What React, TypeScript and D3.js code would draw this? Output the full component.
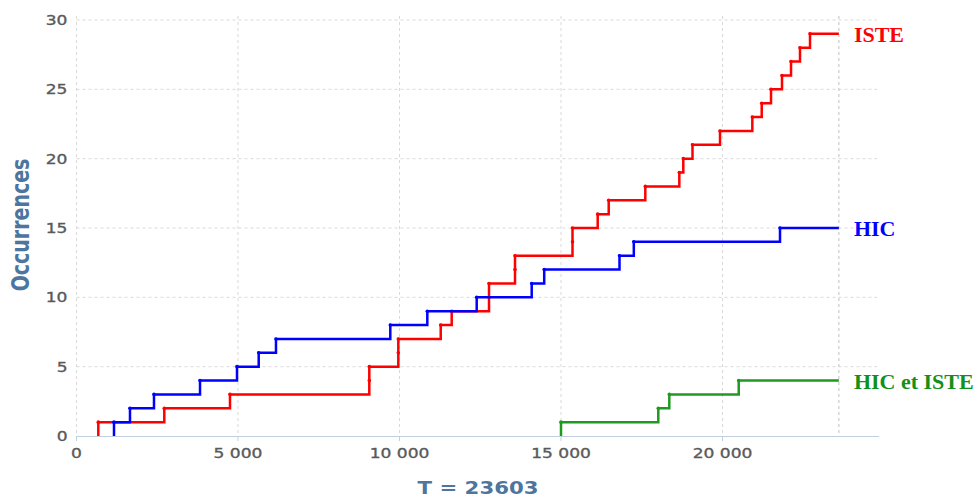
import React from "react";
import * as d3 from "d3";

const T_END = 23603;
const X_MAX = 24783;
const Y_MAX = 30;

const isteTimes = [675, 2718, 4752, 9065, 9065, 9963, 9963, 11276, 11616, 12771, 12771, 13576, 13576, 15356, 15356, 16136, 16477, 17610, 18663, 18786, 19071, 19923, 20923, 21214, 21502, 21842, 22121, 22399, 22709];
const hicTimes = [1161, 1656, 2399, 3824, 4969, 5641, 6176, 9715, 10861, 12390, 14093, 14480, 16811, 17254, 21780];
const bothTimes = [15000, 18012, 18353, 20502];

const xTicks = [0, 5000, 10000, 15000, 20000];
const yTicks = [0, 5, 10, 15, 20, 25, 30];

const seriesList = [
  { name: "ISTE", times: isteTimes, color: "#ff0000", text: "#ff0000" },
  { name: "HIC", times: hicTimes, color: "#0000ff", text: "#0000ff" },
  { name: "HIC et ISTE", times: bothTimes, color: "#1f9a1f", text: "#11901a" },
];

const W = 979;
const H = 497;
const PL = 76.5;
const PR = 877;
const PT = 20;
const PB = 436;

export default function App() {
  const x = d3.scaleLinear().domain([0, X_MAX]).range([PL, PR]);
  const y = d3.scaleLinear().domain([0, Y_MAX]).range([PB, PT]);
  const fmt = (v: number) => d3.format(",")(v).replace(/,/g, " ");
  const line = d3
    .line<[number, number]>()
    .x((d) => x(d[0]))
    .y((d) => y(d[1]))
    .curve(d3.curveStepAfter);

  const tickFont = "DejaVu Sans, Verdana, sans-serif";
  const grid = "#d9d9d9";

  return (
    <svg width={W} height={H} style={{ position: "absolute", left: 0, top: 0, background: "#fff" }}>
      {yTicks.filter((t) => t > 0).map((t) => (
        <line key={"hy" + t} x1={PL} x2={PR} y1={y(t)} y2={y(t)} stroke={grid} strokeDasharray="3,3" strokeWidth={1} />
      ))}
      {xTicks.map((t) => (
        <line key={"vx" + t} x1={x(t)} x2={x(t)} y1={PT - 4} y2={PB} stroke={grid} strokeDasharray="3,3" strokeWidth={1} />
      ))}
      <line x1={x(T_END)} x2={x(T_END)} y1={PT - 4} y2={PB} stroke="#cccccc" strokeDasharray="3,3" strokeWidth={1.2} />
      <line x1={PL} x2={PR + 2} y1={PB + 0.5} y2={PB + 0.5} stroke="#c0d0e0" strokeWidth={1} />
      {xTicks.map((t) => (
        <line key={"tk" + t} x1={x(t)} x2={x(t)} y1={PB} y2={PB + 5} stroke="#c0d0e0" strokeWidth={1} />
      ))}
      {xTicks.map((t) => (
        <text key={"xl" + t} transform={`translate(${x(t)},${PB + 22}) scale(1.22,1)`} textAnchor="middle" fontFamily={tickFont} fontSize={14} fill="#5a5a5a" stroke="#5a5a5a" strokeWidth={0.35}>
          {fmt(t)}
        </text>
      ))}
      {yTicks.map((t) => (
        <text key={"yl" + t} transform={`translate(${PL - 9},${y(t) + 5}) scale(1.22,1)`} textAnchor="end" fontFamily={tickFont} fontSize={14} fill="#5a5a5a" stroke="#5a5a5a" strokeWidth={0.35}>
          {t}
        </text>
      ))}
      <text transform={`translate(29,225) scale(1.3,1) rotate(-90)`} textAnchor="middle" fontFamily={tickFont} fontSize={19} fontWeight="bold" fill="#4d759e">
        Occurrences
      </text>
      <text transform={`translate(478,494) scale(1.25,1)`} textAnchor="middle" fontFamily={tickFont} fontSize={17} fontWeight="bold" fill="#4d759e">
        T = 23603
      </text>
      {seriesList.map((s) => {
        const pts: [number, number][] = [[s.times[0], 0]];
        s.times.forEach((t, i) => pts.push([t, i + 1]));
        pts.push([T_END, s.times.length]);
        return (
          <g key={s.name}>
            <path d={line(pts) || ""} fill="none" stroke={s.color} strokeWidth={2.5} strokeLinejoin="miter" />
            {s.times.map((t, i) => (
              <circle key={i} cx={x(t)} cy={y(i + 1)} r={1.8} fill={s.color} />
            ))}
            <text x={x(T_END) + 15} y={y(s.times.length) + 8} fontFamily="Liberation Serif, Times New Roman, serif" fontWeight="bold" fontSize={22} fill={s.text}>
              {s.name}
            </text>
          </g>
        );
      })}
    </svg>
  );
}
